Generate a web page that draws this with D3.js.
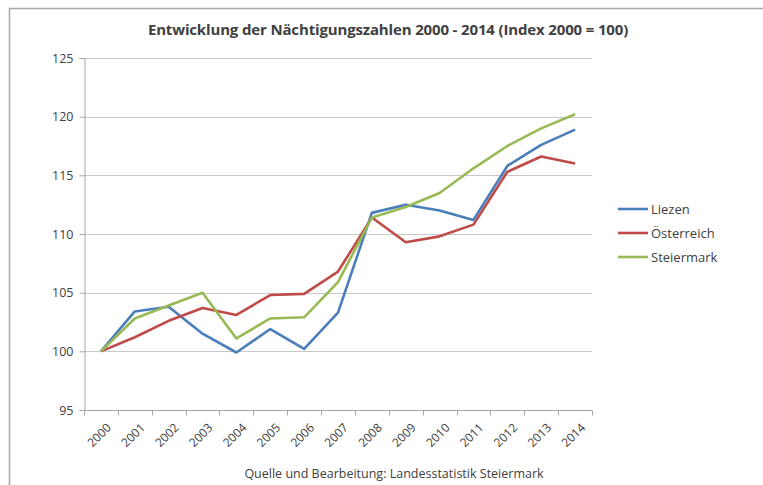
<!DOCTYPE html>
<html>
<head>
<meta charset="utf-8">
<script src="https://cdn.jsdelivr.net/npm/d3@7"></script>
<style>
  body { margin: 0; background: #fff; }
  text { font-family: "Open Sans", "Noto Sans", sans-serif; fill: #404040; }
</style>
</head>
<body>
<script>
// Daten: Index 2000 = 100
const jahre = ["2000", "2001", "2002", "2003", "2004", "2005", "2006", "2007",
  "2008", "2009", "2010", "2011", "2012", "2013", "2014"];
const liezen = [100, 103.4, 103.8, 101.5, 99.9, 101.9, 100.2, 103.3, 111.8, 112.5, 112.0, 111.2, 115.8, 117.6, 118.9];
const oesterreich = [100, 101.2, 102.6, 103.7, 103.1, 104.8, 104.9, 106.8, 111.4, 109.3, 109.8, 110.8, 115.3, 116.6, 116.0];
const steiermark = [100, 102.8, 103.9, 105.0, 101.1, 102.8, 102.9, 105.9, 111.4, 112.3, 113.5, 115.6, 117.5, 119.0, 120.2];
const yTicks = [95, 100, 105, 110, 115, 120, 125];

const serien = [
  { name: "Liezen", werte: liezen, farbe: "#4a7ebb" },
  { name: "Österreich", werte: oesterreich, farbe: "#be4b48" },
  { name: "Steiermark", werte: steiermark, farbe: "#98b954" }
];

const width = 763;
const height = 485;

const svg = d3.select("body").append("svg")
  .attr("width", width)
  .attr("height", height);

// Rahmen (nur oben und links sichtbar)
svg.append("path")
  .attr("d", "M9.5,485 V8.5 H763")
  .attr("fill", "none")
  .attr("stroke", "#a6a6a6")
  .attr("stroke-width", 1.5);

// Skalen
const x = d3.scaleBand().domain(jahre).range([84, 592]);
const y = d3.scaleLinear().domain([95, 125]).range([410, 58]);

// Gitterlinien
svg.append("g")
  .selectAll("line")
  .data(yTicks.filter(d => d > 95))
  .join("line")
  .attr("x1", 84).attr("x2", 592)
  .attr("y1", d => Math.round(y(d)) + 0.5)
  .attr("y2", d => Math.round(y(d)) + 0.5)
  .attr("stroke", "#c8c8c8")
  .attr("stroke-width", 1.2);

// Y-Achse
const yAchse = svg.append("g")
  .attr("transform", "translate(84.5,0)")
  .call(d3.axisLeft(y).tickValues(yTicks).tickSize(5).tickPadding(6));
yAchse.select(".domain").attr("stroke", "#a6a6a6");
yAchse.selectAll(".tick line").attr("stroke", "#a6a6a6");
yAchse.selectAll(".tick text")
  .attr("font-size", 12.5)
  .attr("fill", "#404040")
  .attr("font-family", "Open Sans, sans-serif");

// X-Achse
const xAchse = svg.append("g")
  .attr("transform", "translate(0," + (Math.round(y(95)) + 0.5) + ")");
xAchse.append("line")
  .attr("x1", 84).attr("x2", 592)
  .attr("stroke", "#a6a6a6");
xAchse.selectAll("line.tick")
  .data(jahre.concat(["ende"]))
  .join("line")
  .attr("class", "tick")
  .attr("x1", (d, i) => Math.round(84 + i * x.step()) + 0.5)
  .attr("x2", (d, i) => Math.round(84 + i * x.step()) + 0.5)
  .attr("y1", 0).attr("y2", 5)
  .attr("stroke", "#a6a6a6");
xAchse.selectAll("text")
  .data(jahre)
  .join("text")
  .attr("transform", d => "translate(" + (x(d) + x.bandwidth() / 2 + 5) + ",12) rotate(-45)")
  .attr("text-anchor", "end")
  .attr("dy", "0.7em")
  .attr("font-size", 12)
  .text(d => d);

// Linien
const linie = d3.line()
  .x((d, i) => x(jahre[i]) + x.bandwidth() / 2)
  .y(d => y(d));

svg.append("g")
  .selectAll("path")
  .data(serien)
  .join("path")
  .attr("d", d => linie(d.werte))
  .attr("fill", "none")
  .attr("stroke", d => d.farbe)
  .attr("stroke-width", 2.6)
  .attr("stroke-linejoin", "round");

// Legende
const legende = svg.append("g")
  .selectAll("g")
  .data(serien)
  .join("g")
  .attr("transform", (d, i) => "translate(618," + (209 + i * 24) + ")");
legende.append("line")
  .attr("x1", 0).attr("x2", 30)
  .attr("stroke", d => d.farbe)
  .attr("stroke-width", 2.6);
legende.append("text")
  .attr("x", 33)
  .attr("dy", "0.35em")
  .attr("font-size", 13)
  .attr("fill", "#333")
  .text(d => d.name);

// Titel
svg.append("text")
  .attr("x", 388)
  .attr("y", 35)
  .attr("text-anchor", "middle")
  .attr("font-size", 15)
  .attr("font-weight", "bold")
  .style("letter-spacing", "-0.15px")
  .attr("fill", "#262626")
  .text("Entwicklung der Nächtigungszahlen  2000 - 2014 (Index 2000 = 100)");

// Quelle
svg.append("text")
  .attr("x", 394)
  .attr("y", 478)
  .attr("text-anchor", "middle")
  .attr("font-size", 12.5)
  .attr("fill", "#262626")
  .text("Quelle und Bearbeitung: Landesstatistik Steiermark");
</script>
</body>
</html>
